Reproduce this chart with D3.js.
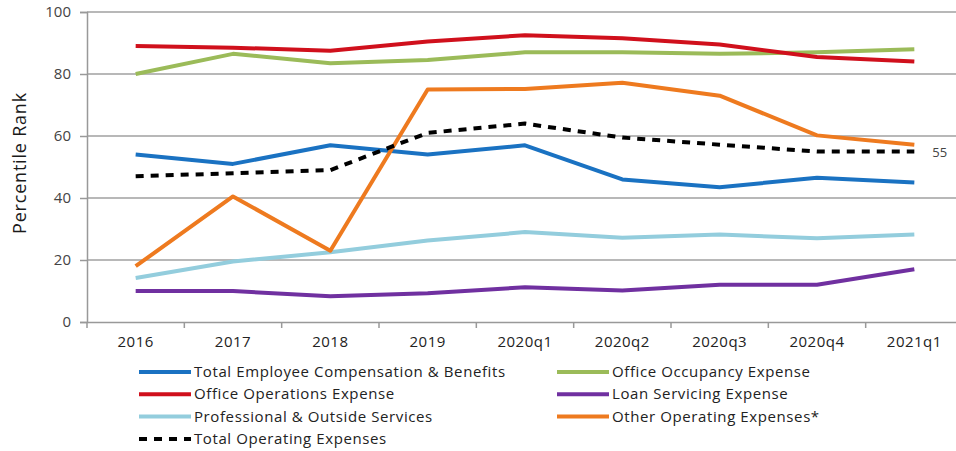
<!DOCTYPE html>
<html>
<head>
<meta charset="utf-8">
<script src="https://cdn.jsdelivr.net/npm/d3@7"></script>
<style>
  body { margin: 0; background: #fff; }
  svg { display: block; }
</style>
</head>
<body>
<div id="chart"></div>
<script>
// data
const periods = ["2016", "2017", "2018", "2019", "2020q1", "2020q2", "2020q3", "2020q4", "2021q1"];
const employeeComp = [54, 51, 57, 54, 57, 46, 43.5, 46.5, 45];
const officeOccupancy = [80, 86.5, 83.5, 84.5, 87, 87, 86.5, 87, 88];
const officeOperations = [89, 88.5, 87.5, 90.5, 92.5, 91.5, 89.5, 85.5, 84];
const loanServicing = [10, 10, 8.3, 9.3, 11.2, 10.2, 12, 12, 17];
const professional = [14.2, 19.5, 22.5, 26.3, 29, 27.2, 28.2, 27, 28.2];
const otherOperating = [18, 40.5, 23, 75, 75.2, 77.2, 73, 60.2, 57.2];
const totalOperating = [47, 48, 49, 61, 64, 59.5, 57.2, 55, 55];
const yTicks = [0, 20, 40, 60, 80, 100];

const series = [
  { name: "Total Employee Compensation & Benefits", values: employeeComp, color: "#1a72c2" },
  { name: "Office Occupancy Expense", values: officeOccupancy, color: "#9bbb59" },
  { name: "Office Operations Expense", values: officeOperations, color: "#d0101c" },
  { name: "Loan Servicing Expense", values: loanServicing, color: "#7030a0" },
  { name: "Professional & Outside Services", values: professional, color: "#93cddd" },
  { name: "Other Operating Expenses*", values: otherOperating, color: "#ee7a1f" },
  { name: "Total Operating Expenses", values: totalOperating, color: "#000", dash: true }
];

const W = 956, H = 451;
const svg = d3.select("#chart").append("svg")
  .attr("width", W).attr("height", H);

const x = d3.scaleBand().domain(periods).range([87, 963]);
const y = d3.scaleLinear().domain([0, 100]).range([322, 12]);
const cx = d => x(d) + x.bandwidth() / 2;

// gridlines
svg.append("g")
  .selectAll("line")
  .data(yTicks.filter(t => t > 0))
  .join("line")
  .attr("x1", 87).attr("x2", 963)
  .attr("y1", d => y(d)).attr("y2", d => y(d))
  .attr("stroke", "#a0a0a0").attr("stroke-width", 1.5);

// y axis
const yAxis = svg.append("g")
  .attr("transform", "translate(87,0)")
  .call(d3.axisLeft(y).tickValues(yTicks).tickSize(7).tickPadding(9));
yAxis.select(".domain").attr("stroke", "#999").attr("stroke-width", 1.5);
yAxis.selectAll(".tick line").attr("stroke", "#999").attr("stroke-width", 1.5);
yAxis.selectAll("text")
  .style("font-family", "Open Sans, sans-serif")
  .style("font-size", "15px")
  .attr("fill", "#444");

// x axis
const xAxis = svg.append("g")
  .attr("transform", "translate(0,322)")
  .call(d3.axisBottom(x).tickSize(0).tickPadding(14));
xAxis.select(".domain").attr("stroke", "#999").attr("stroke-width", 1.5);
xAxis.selectAll("text")
  .style("font-family", "Open Sans, sans-serif")
  .style("font-size", "15px")
  .style("letter-spacing", "0.5px")
  .attr("fill", "#222");
// category boundary ticks
svg.append("g")
  .selectAll("line")
  .data(periods)
  .join("line")
  .attr("x1", d => x(d)).attr("x2", d => x(d))
  .attr("y1", 322).attr("y2", 328)
  .attr("stroke", "#999").attr("stroke-width", 1.5);

// y axis title
svg.append("text")
  .attr("transform", "translate(26,163) rotate(-90)")
  .attr("text-anchor", "middle")
  .style("font-family", "Open Sans, sans-serif")
  .style("font-size", "18px")
  .style("letter-spacing", "0.8px")
  .attr("fill", "#1a1a1a")
  .text("Percentile Rank");

// lines
const line = d3.line()
  .x((d, i) => cx(periods[i]))
  .y(d => y(d));

svg.append("g")
  .selectAll("path")
  .data(series)
  .join("path")
  .attr("d", d => line(d.values))
  .attr("fill", "none")
  .attr("stroke", d => d.color)
  .attr("stroke-width", 4)
  .attr("stroke-linejoin", "round")
  .attr("stroke-dasharray", d => d.dash ? "8,7" : null);

// end label on total operating
svg.append("text")
  .attr("x", cx(periods[periods.length - 1]) + 18)
  .attr("y", y(totalOperating[totalOperating.length - 1]) + 5)
  .style("font-family", "Open Sans, sans-serif")
  .style("font-size", "13px")
  .attr("fill", "#444")
  .text(totalOperating[totalOperating.length - 1]);

// legend
const lg = svg.append("g");
series.forEach(function (s, i) {
  const lx = i % 2 === 0 ? 139 : 557;
  const ly = 372 + Math.floor(i / 2) * 22.3;
  lg.append("line")
    .attr("x1", lx).attr("x2", lx + 52)
    .attr("y1", ly).attr("y2", ly)
    .attr("stroke", s.color).attr("stroke-width", 4)
    .attr("stroke-dasharray", s.dash ? "8,7" : null);
  lg.append("text")
    .attr("x", lx + 55)
    .attr("y", ly + 5)
    .style("font-family", "Open Sans, sans-serif")
    .style("font-size", "15px")
    .style("letter-spacing", "0.6px")
    .attr("fill", "#222")
    .text(s.name);
});
</script>
</body>
</html>
